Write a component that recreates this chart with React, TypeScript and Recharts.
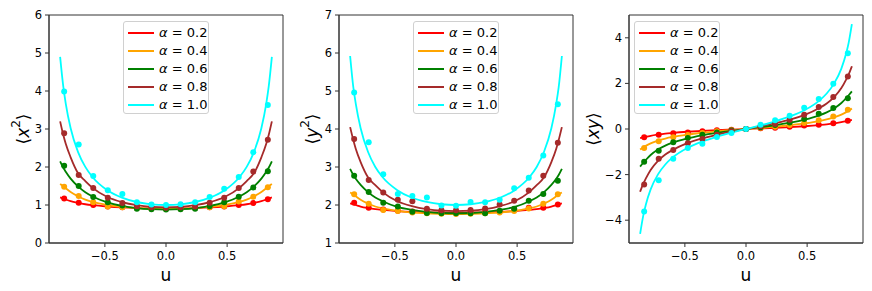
import { CartesianGrid, ComposedChart, Line, Scatter, XAxis, YAxis } from 'recharts';

const alphas = ['0.2', '0.4', '0.6', '0.8', '1.0'];
const colors = ['#ff0000', '#ffa500', '#008000', '#a52a2a', '#00ffff'];
const xTicks = [-0.5, 0, 0.5];

// u grid of the smooth curves, and of the sampled points
const uCurve = [-0.866, -0.84, -0.82, -0.78, -0.72, -0.66, -0.6, -0.48, -0.36, -0.24, -0.12, 0, 0.12, 0.24, 0.36, 0.48, 0.6, 0.66, 0.72, 0.78, 0.82, 0.84, 0.866];
const uPoints = [-0.833, -0.714, -0.595, -0.476, -0.357, -0.238, -0.119, 0, 0.119, 0.238, 0.357, 0.476, 0.595, 0.714, 0.833];

// <x^2>
const x2Red = [1.2, 1.17, 1.145, 1.1, 1.055, 1.02, 0.995, 0.96, 0.935, 0.92, 0.912, 0.91, 0.912, 0.92, 0.935, 0.96, 0.995, 1.02, 1.055, 1.1, 1.145, 1.17, 1.2];
const x2Orange = [1.55, 1.49, 1.44, 1.34, 1.23, 1.14, 1.08, 1.0, 0.95, 0.92, 0.905, 0.9, 0.905, 0.92, 0.95, 1.0, 1.08, 1.14, 1.23, 1.34, 1.44, 1.49, 1.55];
const x2Green = [2.15, 1.98, 1.875, 1.694, 1.49, 1.338, 1.225, 1.07, 0.977, 0.92, 0.89, 0.88, 0.89, 0.92, 0.977, 1.07, 1.225, 1.338, 1.49, 1.694, 1.875, 1.98, 2.15];
const x2Brown = [3.2, 2.84, 2.61, 2.255, 1.84, 1.63, 1.45, 1.21, 1.077, 0.996, 0.953, 0.94, 0.953, 0.996, 1.077, 1.21, 1.45, 1.63, 1.84, 2.255, 2.61, 2.84, 3.2];
const x2Cyan = [4.9, 4.116, 3.67, 3.02, 2.399, 2.003, 1.731, 1.389, 1.194, 1.079, 1.019, 1.0, 1.019, 1.079, 1.194, 1.389, 1.731, 2.003, 2.399, 3.02, 3.67, 4.116, 4.9];

const x2PtsRed = [1.17, 1.06, 1.0, 0.96, 0.94, 0.92, 0.91, 0.9, 0.91, 0.92, 0.94, 0.96, 1.0, 1.05, 1.15];
const x2PtsOrange = [1.48, 1.24, 1.07, 0.96, 0.94, 0.92, 0.9, 0.9, 0.9, 0.92, 0.94, 0.97, 1.09, 1.22, 1.47];
const x2PtsGreen = [2.03, 1.5, 1.21, 1.07, 0.99, 0.9, 0.89, 0.88, 0.89, 0.9, 0.97, 1.07, 1.22, 1.46, 1.89];
const x2PtsBrown = [2.89, 1.79, 1.45, 1.19, 1.05, 0.97, 0.94, 0.93, 0.94, 0.96, 1.06, 1.19, 1.45, 1.88, 2.72];
const x2PtsCyan = [3.99, 2.59, 1.76, 1.39, 1.29, 1.07, 1.01, 1.0, 1.02, 1.07, 1.21, 1.43, 1.74, 2.39, 3.63];

// <y^2>
const y2Red = [2.04, 2.02, 2.0, 1.96, 1.92, 1.89, 1.87, 1.84, 1.82, 1.81, 1.802, 1.8, 1.802, 1.81, 1.82, 1.84, 1.87, 1.89, 1.92, 1.96, 2.0, 2.02, 2.04];
const y2Orange = [2.33, 2.28, 2.23, 2.14, 2.04, 1.96, 1.91, 1.845, 1.8, 1.78, 1.765, 1.76, 1.765, 1.78, 1.8, 1.845, 1.91, 1.96, 2.04, 2.14, 2.23, 2.28, 2.33];
const y2Green = [2.95, 2.79, 2.69, 2.53, 2.34, 2.2, 2.1, 1.95, 1.87, 1.82, 1.79, 1.78, 1.79, 1.82, 1.87, 1.95, 2.1, 2.2, 2.34, 2.53, 2.69, 2.79, 2.95];
const y2Brown = [4.05, 3.71, 3.48, 3.13, 2.73, 2.52, 2.34, 2.1, 1.97, 1.89, 1.85, 1.84, 1.85, 1.89, 1.97, 2.1, 2.34, 2.52, 2.73, 3.13, 3.48, 3.71, 4.05];
const y2Cyan = [5.92, 5.1, 4.67, 4.02, 3.4, 3.0, 2.73, 2.39, 2.19, 2.08, 2.02, 2.0, 2.02, 2.08, 2.19, 2.39, 2.73, 3.0, 3.4, 4.02, 4.67, 5.1, 5.92];

const y2PtsRed = [2.06, 1.93, 1.88, 1.85, 1.83, 1.82, 1.8, 1.8, 1.8, 1.82, 1.83, 1.88, 1.93, 1.93, 2.01];
const y2PtsOrange = [2.28, 2.03, 1.87, 1.84, 1.8, 1.78, 1.77, 1.76, 1.77, 1.78, 1.8, 1.84, 1.91, 2.03, 2.28];
const y2PtsGreen = [2.77, 2.34, 2.06, 1.96, 1.82, 1.79, 1.78, 1.78, 1.78, 1.78, 1.85, 1.9, 2.11, 2.29, 2.64];
const y2PtsBrown = [3.74, 2.66, 2.33, 2.14, 2.1, 1.9, 1.86, 1.86, 1.87, 1.91, 2.01, 2.11, 2.38, 2.77, 3.64];
const y2PtsCyan = [4.96, 3.65, 2.81, 2.29, 2.24, 2.2, 1.99, 1.98, 2.08, 2.07, 2.14, 2.44, 2.72, 3.3, 4.65];

// <xy>
const xyRed = [-0.4, -0.37, -0.35, -0.3, -0.245, -0.2, -0.17, -0.12, -0.08, -0.05, -0.025, 0, 0.025, 0.05, 0.08, 0.12, 0.17, 0.2, 0.245, 0.3, 0.35, 0.37, 0.4];
const xyOrange = [-0.9, -0.8, -0.74, -0.63, -0.51, -0.42, -0.35, -0.245, -0.165, -0.1, -0.05, 0, 0.05, 0.1, 0.165, 0.245, 0.35, 0.42, 0.51, 0.63, 0.74, 0.8, 0.9];
const xyGreen = [-1.65, -1.48, -1.36, -1.14, -0.9, -0.73, -0.6, -0.41, -0.275, -0.17, -0.08, 0, 0.08, 0.17, 0.275, 0.41, 0.6, 0.73, 0.9, 1.14, 1.36, 1.48, 1.65];
const xyBrown = [-2.75, -2.4, -2.18, -1.8, -1.4, -1.12, -0.92, -0.62, -0.41, -0.255, -0.12, 0, 0.12, 0.255, 0.41, 0.62, 0.92, 1.12, 1.4, 1.8, 2.18, 2.4, 2.75];
const xyCyan = [-4.6, -3.79, -3.33, -2.65, -1.99, -1.556, -1.247, -0.83, -0.55, -0.339, -0.162, 0, 0.162, 0.339, 0.55, 0.83, 1.247, 1.556, 1.99, 2.65, 3.33, 3.79, 4.6];

const xyPtsRed = [-0.36, -0.25, -0.19, -0.15, -0.1, -0.06, -0.03, 0, 0.03, 0.06, 0.1, 0.15, 0.19, 0.25, 0.36];
const xyPtsOrange = [-0.83, -0.54, -0.36, -0.26, -0.18, -0.1, -0.05, 0, 0.05, 0.1, 0.18, 0.26, 0.38, 0.55, 0.84];
const xyPtsGreen = [-1.44, -0.95, -0.58, -0.39, -0.25, -0.15, -0.07, 0, 0.08, 0.17, 0.29, 0.44, 0.67, 0.92, 1.35];
const xyPtsBrown = [-2.43, -1.31, -0.92, -0.63, -0.44, -0.25, -0.1, 0, 0.12, 0.22, 0.41, 0.62, 0.96, 1.4, 2.3];
const xyPtsCyan = [-3.62, -2.25, -1.31, -0.83, -0.65, -0.35, -0.17, 0, 0.19, 0.38, 0.58, 0.93, 1.32, 1.99, 3.32];

const FONT = '"DejaVu Sans", sans-serif';
const fmt = (v: number, d: number) => (v < 0 ? '\u2212' + Math.abs(v).toFixed(d) : v.toFixed(d));

type PanelProps = {
  left: number;
  width: number;
  curves: number[][];
  points: number[][];
  yDomain: [number, number];
  yTicks: number[];
  yLabel: 'x2' | 'y2' | 'xy';
  labelX: number;
  legendLeft: number;
};

function YLabel({ kind, x }: { kind: string; x: number }) {
  const y = 129;
  return (
    <text x={x} y={y} transform={`rotate(-90 ${x} ${y})`} textAnchor="middle" dominantBaseline="central" fontFamily={FONT} fontSize={17} fill="#000">
      {kind === 'xy' ? (
        <>
          <tspan>⟨</tspan>
          <tspan fontStyle="italic">xy</tspan>
          <tspan>⟩</tspan>
        </>
      ) : (
        <>
          <tspan>⟨</tspan>
          <tspan fontStyle="italic">{kind === 'x2' ? 'x' : 'y'}</tspan>
          <tspan fontSize={12} dy={-7}>2</tspan>
          <tspan dy={7}>⟩</tspan>
        </>
      )}
    </text>
  );
}

function Panel({ left, width, curves, points, yDomain, yTicks, yLabel, labelX, legendLeft }: PanelProps) {
  const rows = uCurve.map((u, i) => {
    const r: Record<string, number> = { u };
    curves.forEach((c, k) => (r['s' + k] = c[i]));
    return r;
  });
  const margin = { top: 15, right: width - 283, bottom: 18, left: 9 };
  return (
    <div style={{ position: 'absolute', left, top: 0, width, height: 291 }}>
      <ComposedChart width={width} height={291} data={rows} margin={margin}>
        <CartesianGrid
          stroke="#333"
          strokeWidth={1}
          horizontalCoordinatesGenerator={({ offset }: any) => [offset.top, offset.top + offset.height]}
          verticalCoordinatesGenerator={({ offset }: any) => [offset.left, offset.left + offset.width]}
        />
        <XAxis
          dataKey="u"
          type="number"
          domain={[-0.957, 0.957]}
          ticks={xTicks}
          allowDataOverflow
          tickFormatter={(v: number) => fmt(v, 1)}
          tick={{ fill: '#000', fontSize: 11.5, fontFamily: FONT }}
          tickSize={4}
          tickMargin={5}
          height={30}
          stroke="#333"
          label={{ value: 'u', position: 'insideBottom', offset: -8, fill: '#000', fontSize: 17, fontFamily: FONT }}
        />
        <YAxis
          type="number"
          domain={yDomain}
          ticks={yTicks}
          allowDataOverflow
          tickFormatter={(v: number) => fmt(v, 0)}
          tick={{ fill: '#000', fontSize: 11.5, fontFamily: FONT }}
          tickSize={4}
          tickMargin={3}
          width={40}
          stroke="#333"
          label={{ content: () => <YLabel kind={yLabel} x={labelX} /> }}
        />
        {curves.map((_, k) => [
          <Line
            key={'l' + k}
            dataKey={'s' + k}
            type="monotone"
            stroke={colors[k]}
            strokeWidth={1.8}
            dot={false}
            activeDot={false}
            isAnimationActive={false}
          />,
          <Scatter
            key={'p' + k}
            data={uPoints.map((u, j) => ({ u, v: points[k][j] }))}
            dataKey="v"
            fill={colors[k]}
            isAnimationActive={false}
            shape={(p: any) => <circle cx={p.cx} cy={p.cy} r={3} fill={colors[k]} />}
          />,
        ])}
      </ComposedChart>
      <div
        style={{
          position: 'absolute',
          left: legendLeft,
          top: 21,
          width: 84,
          height: 91,
          border: '1px solid #d0d0d0',
          borderRadius: 3,
          background: 'rgba(255,255,255,0.8)',
          fontFamily: FONT,
          fontSize: 13,
        }}
      >
        {alphas.map((a, k) => (
          <div key={a} style={{ position: 'absolute', left: 0, top: 2 + k * 18, height: 18, width: 84 }}>
            <div style={{ position: 'absolute', left: 4, top: 8, width: 26, height: 2, background: colors[k] }} />
            <span style={{ position: 'absolute', left: 35, top: 0, lineHeight: '18px', whiteSpace: 'nowrap' }}>
              <i>α</i> = {a}
            </span>
          </div>
        ))}
      </div>
    </div>
  );
}

export default function App() {
  return (
    <div style={{ position: 'absolute', left: 0, top: 0, width: 872, height: 291, background: '#fff' }}>
      <Panel
        left={0}
        width={290}
        curves={[x2Red, x2Orange, x2Green, x2Brown, x2Cyan]}
        points={[x2PtsRed, x2PtsOrange, x2PtsGreen, x2PtsBrown, x2PtsCyan]}
        yDomain={[0, 6]}
        yTicks={[0, 1, 2, 3, 4, 5, 6]}
        yLabel="x2"
        labelX={23}
        legendLeft={123}
      />
      <Panel
        left={290}
        width={290}
        curves={[y2Red, y2Orange, y2Green, y2Brown, y2Cyan]}
        points={[y2PtsRed, y2PtsOrange, y2PtsGreen, y2PtsBrown, y2PtsCyan]}
        yDomain={[1, 7]}
        yTicks={[1, 2, 3, 4, 5, 6, 7]}
        yLabel="y2"
        labelX={22}
        legendLeft={123}
      />
      <Panel
        left={580}
        width={292}
        curves={[xyRed, xyOrange, xyGreen, xyBrown, xyCyan]}
        points={[xyPtsRed, xyPtsOrange, xyPtsGreen, xyPtsBrown, xyPtsCyan]}
        yDomain={[-5, 5]}
        yTicks={[-4, -2, 0, 2, 4]}
        yLabel="xy"
        labelX={13}
        legendLeft={54}
      />
    </div>
  );
}
